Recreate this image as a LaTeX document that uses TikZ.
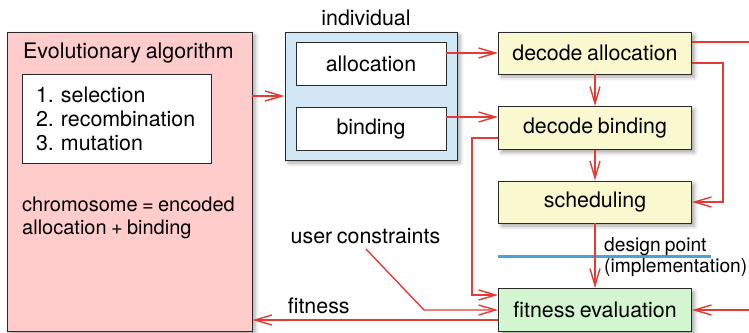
\documentclass[tikz,border=0pt]{standalone}
\usepackage{fontspec}
\setmainfont[WordSpace=0.78]{TeX Gyre Heros}
\usepackage{tikz}
\usetikzlibrary{arrows.meta,positioning,calc,shadows.blur}
\definecolor{EvoPink}{HTML}{FFCCCC}
\definecolor{IndBlue}{HTML}{D2E7F5}
\definecolor{DecYellow}{HTML}{FAF8CE}
\definecolor{FitGreen}{HTML}{D3F5CF}
\definecolor{FlowRed}{HTML}{E53B32}
\definecolor{PointBlue}{HTML}{4AA3D6}
\definecolor{Frame}{HTML}{2A2A2A}
\frenchspacing

\begin{document}
\begin{tikzpicture}[x=1pt,y=-1pt,>={Straight Barb[length=17pt,width=10pt]},
  font=\fontsize{21.4}{24}\selectfont,
  shade/.style={blur shadow={shadow xshift=3pt,shadow yshift=-3pt,shadow blur radius=4pt,shadow opacity=35}},
  box/.style={draw=Frame,line width=0.9pt,inner sep=0pt},
  part/.style={box,fill=white,minimum width=150pt,minimum height=43pt},
  stage/.style={box,shade,minimum width=193pt,minimum height=42pt},
  flow/.style={draw=FlowRed,line width=1.4pt}]
  \useasboundingbox (0,0) rectangle (749,332);
  % evolutionary algorithm
  \node[box,shade,fill=EvoPink,minimum width=245pt,minimum height=299pt] (ea) at (129.5,181.5) {};
  \node[anchor=base west,inner sep=0pt] (eatitle) at (23,58) {Evolutionary algorithm};
  \node[box,fill=white,minimum width=189pt,minimum height=89pt,text width=161pt,align=left,inner xsep=14pt] (steps) at (116.5,118.5) {1. selection\\2. recombination\\3. mutation};
  \node[anchor=north west,inner sep=0pt,align=left,font=\fontsize{20}{23}\selectfont] (chrom) at (22,197) {chromosome = encoded\\allocation + binding};
  % individual
  \node[box,shade,fill=IndBlue,minimum width=172pt,minimum height=128pt] (ind) at (371,96) {};
  \node[anchor=base,inner sep=0pt] (indlbl) at ($(ind.north)+(-5,-6)$) {individual};
  \node[part] (alloc) at (371,63.5) {allocation};
  \node[part] (bind) at (371,129) {binding};
  % decoding chain
  \node[stage,fill=DecYellow] (dalloc) at (595,53) {decode allocation};
  \node[stage,fill=DecYellow,minimum height=43pt] (dbind) at (595,128) {decode binding};
  \node[stage,fill=DecYellow] (sched) at (595,202) {scheduling};
  \node[stage,fill=FitGreen,minimum height=43pt] (fit) at (595,310) {fitness evaluation};
  % design point
  \draw[PointBlue,line width=2.2pt] ($(sched.south west)+(0,33)$) -- ++(213,0);
  \node[anchor=north west,inner sep=0pt,align=left,font=\fontsize{19.2}{21}\selectfont] (dpoint) at (604,237) {design point\\(implementation)};
  \node[anchor=base,inner sep=0pt] (uc) at (365.5,243) {user constraints};
  \coordinate (ucbend) at (424,310);
  \coordinate (outtop) at (749,42);
  \coordinate (inright) at (749,310);
  \coordinate (fitout) at ($(fit.west)+(0,10)$);
  % connectors
  \draw[flow,->] (ea.east |- ind.west) -- (ind.west);
  \draw[flow,->] (alloc.east |- dalloc.west) -- (dalloc.west);
  \draw[flow,->] ($(bind.east)+(0,-12)$) -- ($(dbind.west)+(0,-11)$);
  \draw[flow,->] (dalloc.south) -- (dbind.north);
  \draw[flow,->] (dbind.south) -- (sched.north);
  \draw[flow,->] (sched.south) -- (fit.north);
  \draw[flow] (dalloc.east |- outtop) -- (outtop);
  \draw[flow,->] (inright) -- (fit.east);
  \draw[flow,->] ($(dalloc.east)+(0,10)$) -| ($(sched.east)+(31,0)$) -- (sched.east);
  \draw[flow,->] ($(dbind.west)+(0,10)$) -| ($(fit.west)+(-26,-15)$) -- ($(fit.west)+(0,-15)$);
  \draw[flow,->] ($(uc.base)+(0.5,6)$) -- (ucbend) -- (fit.west);
  \draw[flow,->] (fitout) -- (ea.east |- fitout) node[pos=0.73,above,inner sep=5pt,text=black] (fitlbl) {fitness};
\end{tikzpicture}
\end{document}
